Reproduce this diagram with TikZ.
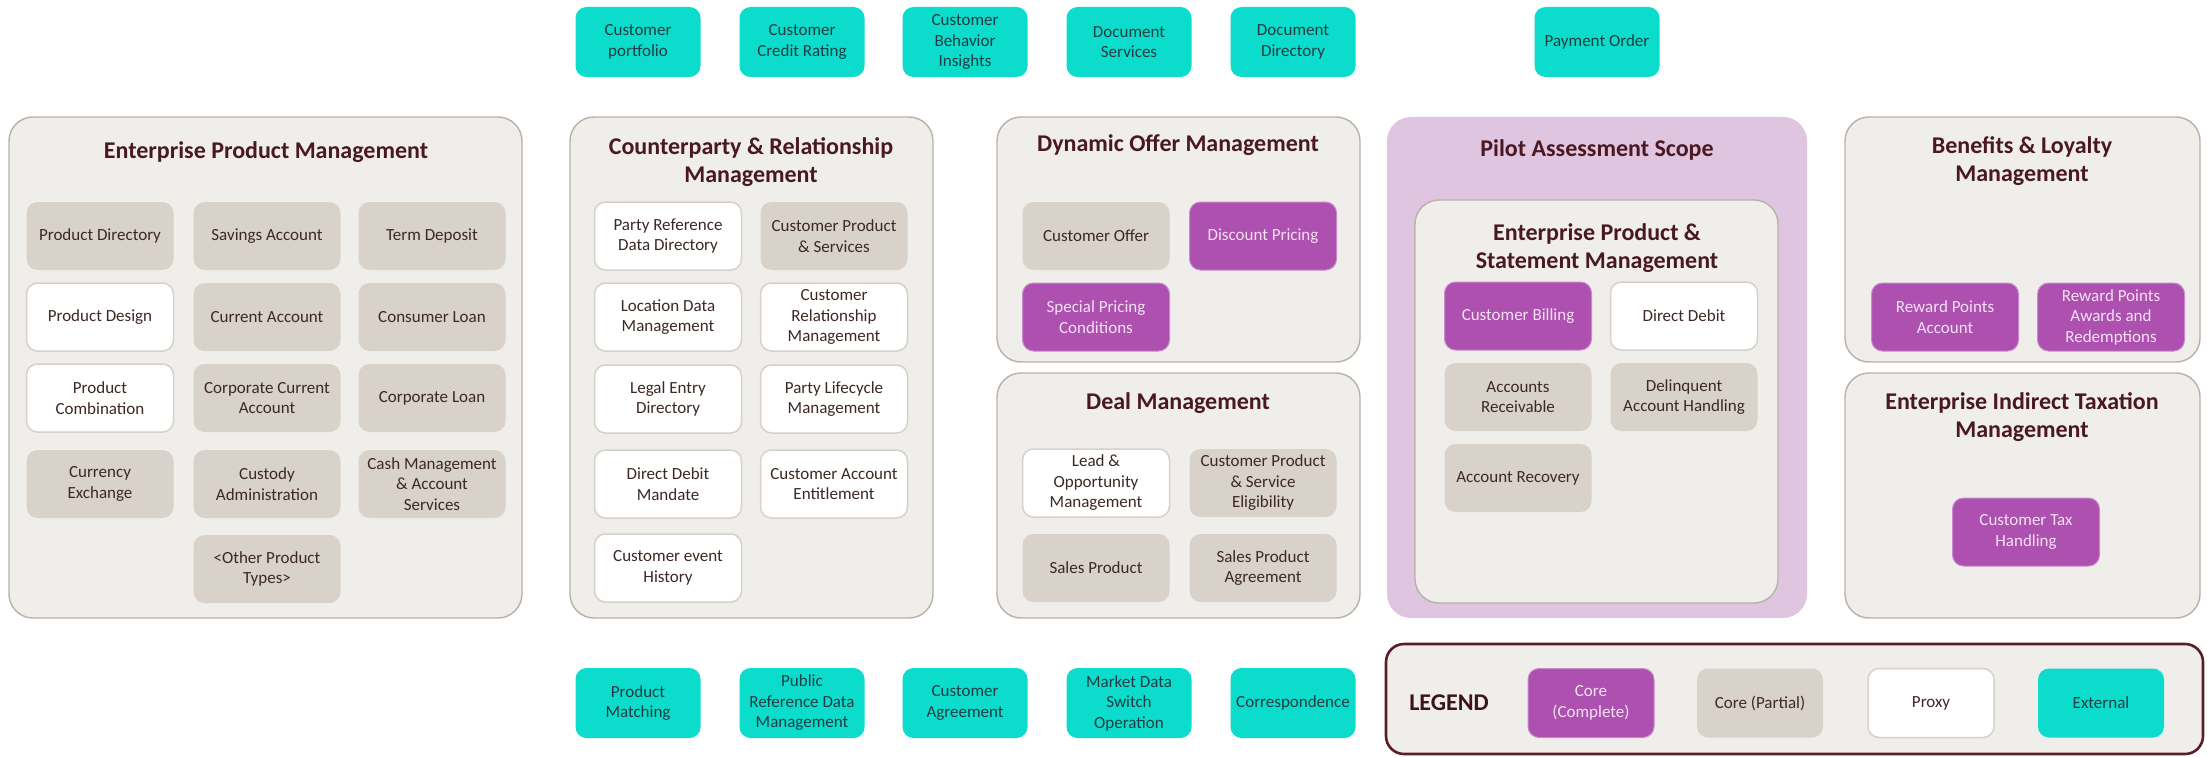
\documentclass[tikz,border=0pt]{standalone}
\usepackage{fontspec}
\setmainfont{Carlito}
\definecolor{grpfill}{HTML}{EFEEEA}
\definecolor{grpline}{HTML}{B9B1A8}
\definecolor{titlecol}{HTML}{4A1820}
\definecolor{itemtext}{HTML}{3C2824}
\definecolor{partfill}{HTML}{D8D2CA}
\definecolor{proxyline}{HTML}{D6D1CB}
\definecolor{corefill}{HTML}{AD50AF}
\definecolor{coreline}{HTML}{C88ACA}
\definecolor{coretext}{HTML}{F3E2F4}
\definecolor{extfill}{HTML}{0CDCCB}
\definecolor{exttext}{HTML}{1F3D44}
\definecolor{pilotfill}{HTML}{E0C5E0}
\definecolor{legendline}{HTML}{5A1E2A}
\begin{document}
\begin{tikzpicture}[x=1pt,y=-1pt,
  group/.style={draw=grpline, fill=grpfill, line width=1.4pt, rounded corners=24pt, inner sep=0pt, outer sep=0pt},
  title/.style={font=\bfseries\fontsize{24}{28.5}\selectfont, text=titlecol, align=center},
  item/.style={rounded corners=11pt, minimum width=147pt, minimum height=68pt, inner sep=1pt, align=center, font=\fontsize{17}{20.5}\selectfont, text=itemtext},
  partial/.style={item, fill=partfill},
  proxy/.style={item, fill=white, draw=proxyline, line width=1.5pt},
  core/.style={item, fill=corefill, draw=coreline, line width=1pt, text=coretext},
  ext/.style={item, fill=extfill, text=exttext, minimum width=125pt, minimum height=70pt}]
\useasboundingbox (0,0) rectangle (2207,757);

% ---- domain containers ----
\node[group, minimum width=513pt, minimum height=501pt] (epm) at (265.5,367.5) {};
\node[group, minimum width=363pt, minimum height=501pt] (cpr) at (751.5,367.5) {};
\node[group, minimum width=363pt, minimum height=245pt] (dom) at (1178.5,239.5) {};
\node[group, minimum width=363pt, minimum height=245pt] (deal) at (1178.5,495.5) {};
\node[group, draw=none, fill=pilotfill, minimum width=420pt, minimum height=501pt] (pilot) at (1597,367.5) {};
\node[group, minimum width=363pt, minimum height=403pt] (eps) at (1596.5,401.5) {};
\node[group, minimum width=355pt, minimum height=245pt] (bl) at (2022.5,239.5) {};
\node[group, minimum width=355pt, minimum height=245pt] (eitm) at (2022.5,495.5) {};

% ---- container titles ----
\node[title] (epmT) at (266,152) {Enterprise Product Management};
\node[title] (cprT) at (751,162) {Counterparty \& Relationship\\Management};
\node[title] (domT) at (1178,145) {Dynamic Offer Management};
\node[title] (dealT) at (1178,403) {Deal Management};
\node[title] (pilotT) at (1597,150) {Pilot Assessment Scope};
\node[title] (epsT) at (1597,248) {Enterprise Product \&\\Statement Management};
\node[title] (blT) at (2022,161) {Benefits \& Loyalty\\Management};
\node[title] (eitmT) at (2022,417) {Enterprise Indirect Taxation\\Management};

% ---- Enterprise Product Management ----
\node[partial] (pd) at (100,236) {Product Directory};
\node[partial] (sa) at (267,236) {Savings Account};
\node[partial] (td) at (432,236) {Term Deposit};
\node[proxy] (pdes) at (100,317) {Product Design};
\node[partial] (ca) at (267,317) {Current Account};
\node[partial] (cl) at (432,317) {Consumer Loan};
\node[proxy] (pc) at (100,398) {Product\\Combination};
\node[partial] (cca) at (267,398) {Corporate Current\\Account};
\node[partial] (col) at (432,398) {Corporate Loan};
\node[partial] (cx) at (100,484) {Currency\\Exchange};
\node[partial] (cad) at (267,484) {Custody\\Administration};
\node[partial] (cm) at (432,484) {Cash Management\\\& Account\\Services};
\node[partial] (opt) at (267,569) {<Other Product\\Types>};

% ---- Counterparty & Relationship Management ----
\node[proxy] (prd) at (668,236) {Party Reference\\Data Directory};
\node[partial] (cps) at (834,236) {Customer Product\\\& Services};
\node[proxy] (ldm) at (668,317) {Location Data\\Management};
\node[proxy] (crm) at (834,317) {Customer\\Relationship\\Management};
\node[proxy] (led) at (668,399) {Legal Entry\\Directory};
\node[proxy] (plm) at (834,399) {Party Lifecycle\\Management};
\node[proxy] (ddm) at (668,484) {Direct Debit\\Mandate};
\node[proxy] (cae) at (834,484) {Customer Account\\Entitlement};
\node[proxy] (ceh) at (668,568) {Customer event\\History};

% ---- Dynamic Offer Management ----
\node[partial] (co) at (1096,236) {Customer Offer};
\node[core] (dp) at (1263,236) {Discount Pricing};
\node[core] (spc) at (1096,317) {Special Pricing\\Conditions};

% ---- Deal Management ----
\node[proxy] (lom) at (1096,483) {Lead \&\\Opportunity\\Management};
\node[partial] (cpse) at (1263,483) {Customer Product\\\& Service\\Eligibility};
\node[partial] (sp) at (1096,568) {Sales Product};
\node[partial] (spa) at (1263,568) {Sales Product\\Agreement};

% ---- Enterprise Product & Statement Management ----
\node[core] (cb) at (1518,316) {Customer Billing};
\node[proxy] (dd) at (1684,316) {Direct Debit};
\node[partial] (ar) at (1518,397) {Accounts\\Receivable};
\node[partial] (dah) at (1684,397) {Delinquent\\Account Handling};
\node[partial] (arec) at (1518,478) {Account Recovery};

% ---- Benefits & Loyalty / Indirect Taxation ----
\node[core] (rpa) at (1945,317) {Reward Points\\Account};
\node[core] (rpr) at (2111,317) {Reward Points\\Awards and\\Redemptions};
\node[core] (cth) at (2026,532) {Customer Tax\\Handling};

% ---- external services, top row ----
\node[ext] (cpf) at (638,42) {Customer\\portfolio};
\node[ext] (ccr) at (802,42) {Customer\\Credit Rating};
\node[ext] (cbi) at (965,42) {Customer\\Behavior\\Insights};
\node[ext] (dsv) at (1129,42) {Document\\Services};
\node[ext] (ddir) at (1293,42) {Document\\Directory};
\node[ext] (po) at (1597,42) {Payment Order};

% ---- external services, bottom row ----
\node[ext] (pm) at (638,703) {Product\\Matching};
\node[ext] (prdm) at (802,703) {Public\\Reference Data\\Management};
\node[ext] (cag) at (965,703) {Customer\\Agreement};
\node[ext] (mds) at (1129,703) {Market Data\\Switch\\Operation};
\node[ext] (corr) at (1293,703) {Correspondence};

% ---- legend ----
\node[group, draw=legendline, line width=2.6pt, rounded corners=18pt, minimum width=817pt, minimum height=110pt] (leg) at (1794.5,699) {};
\node[font=\bfseries\fontsize{24}{28}\selectfont, text=titlecol!80!black] (legT) at (1449,703) {LEGEND};
\node[core, minimum width=126pt, minimum height=69pt] (lcore) at (1591,703) {Core\\(Complete)};
\node[partial, minimum width=126pt, minimum height=69pt] (lpart) at (1760,703) {Core (Partial)};
\node[proxy, minimum width=126pt, minimum height=69pt] (lproxy) at (1931,703) {Proxy};
\node[ext, minimum width=126pt, minimum height=69pt] (lext) at (2101,703) {External};
\end{tikzpicture}
\end{document}
